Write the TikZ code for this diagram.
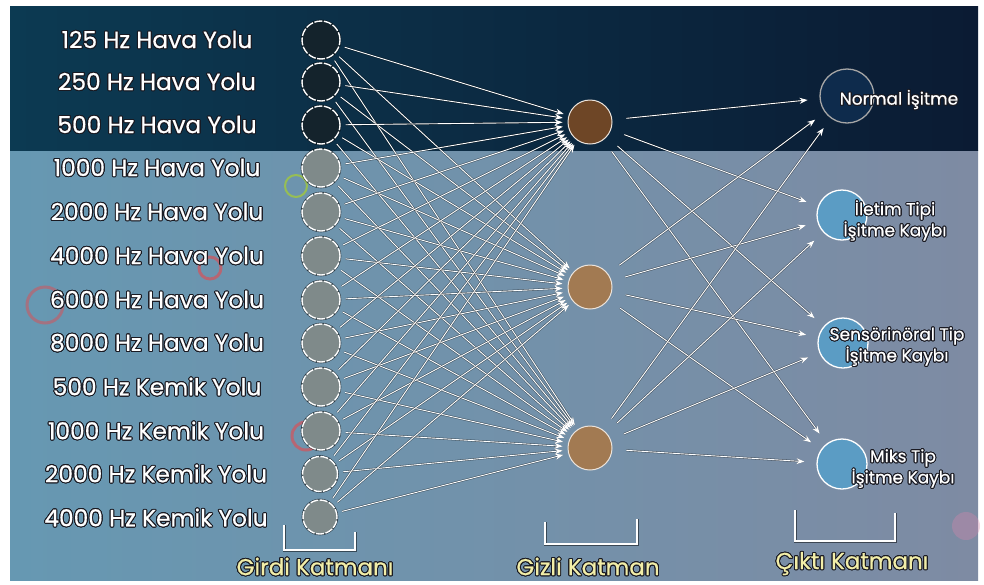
\documentclass[tikz,border=0pt]{standalone}
\usepackage{fontspec}
\setmainfont{Poppins}
\newfontfamily\lblfont{Poppins}[FakeBold=0.6]
\usepackage{contour}
\contourlength{1pt}
\usetikzlibrary{arrows.meta}

\definecolor{topnavy}{HTML}{0B1B33}
\definecolor{topteal}{HTML}{0C3A52}
\definecolor{lowteal}{HTML}{6698B2}
\definecolor{lowblue}{HTML}{7390BA}
\definecolor{lowgray}{HTML}{7E8BA3}
\definecolor{ingray}{HTML}{7F8A8A}
\definecolor{indark}{HTML}{14232C}
\definecolor{hidtan}{HTML}{A27A52}
\definecolor{hiddark}{HTML}{6E4626}
\definecolor{outblue}{HTML}{5B9CC4}
\definecolor{outnavy}{HTML}{0E2B4C}
\definecolor{lyrtext}{HTML}{F2EEA8}
\definecolor{rimdark}{HTML}{1A1A22}

\tikzset{
  inunit/.style={circle, draw=white, line width=1.4pt, dash pattern=on 8pt off 1.5pt,
    fill=ingray, minimum size=38pt, inner sep=0pt,
    preaction={draw=black, opacity=0.6, line width=2.6pt, solid}},
  hidunit/.style={circle, draw=white!80!hidtan, line width=1pt, fill=hidtan,
    minimum size=44pt, inner sep=0pt},
  outunit/.style={circle, draw=white, line width=1.3pt, fill=outblue,
    minimum size=50pt, inner sep=0pt},
  inlabel/.style={text=white, font=\lblfont\fontsize{23.3}{26}\selectfont},
  outlabel/.style={text=white, align=center, font=\lblfont\fontsize{17}{17}\selectfont},
  layerlabel/.style={text=lyrtext, font=\lblfont\fontsize{23}{26}\selectfont},
  link/.style={draw=white, line width=0.9pt, -{Stealth[length=8pt,width=6pt]},
    preaction={draw=black, opacity=0.45, line width=2pt}},
  bracket/.style={draw=white, line width=1.6pt,
    preaction={draw=black, opacity=0.5, line width=3pt}}
}
\newcommand{\rim}[1]{\contour{rimdark}{#1}}

\begin{document}
\begin{tikzpicture}[x=1pt, y=-1pt]
\useasboundingbox (0,0) rectangle (984,584);
% background
\fill[white] (0,0) rectangle (984,584);
\shade[left color=lowteal, middle color=lowblue, right color=lowgray] (10,150) rectangle (978,580);
\shade[left color=topteal, right color=topnavy] (10,6) rectangle (978,150);
\draw[red!70!pink, line width=3pt, opacity=0.5] (210,268) circle (11);
\draw[red!70!pink, line width=3pt, opacity=0.4] (45,305) circle (18);
\draw[yellow!70!green, line width=2pt, opacity=0.6] (296,186) circle (11);
\draw[red!70!pink, line width=3pt, opacity=0.5] (306,436) circle (14);
\fill[pink!70!violet, opacity=0.35] (966,526) circle (14);

% input layer
\node[inunit, fill=indark] (i1) at (321,40) {};
\node[inunit, fill=indark] (i2) at (321,82) {};
\node[inunit, fill=indark] (i3) at (321,125) {};
\node[inunit] (i4) at (321,168) {};
\node[inunit] (i5) at (321,212) {};
\node[inunit] (i6) at (321,256) {};
\node[inunit] (i7) at (321,300) {};
\node[inunit] (i8) at (321,343) {};
\node[inunit] (i9) at (321,387) {};
\node[inunit] (i10) at (321,431) {};
\node[inunit, minimum size=35pt] (i11) at (320,474) {};
\node[inunit, minimum size=34pt] (i12) at (320,517) {};

\node[inlabel] (l1) at (157,40) {\rim{125 Hz Hava Yolu}};
\node[inlabel] (l2) at (157,82) {\rim{250 Hz Hava Yolu}};
\node[inlabel] (l3) at (157,125) {\rim{500 Hz Hava Yolu}};
\node[inlabel] (l4) at (157,168) {\rim{1000 Hz Hava Yolu}};
\node[inlabel] (l5) at (157,212) {\rim{2000 Hz Hava Yolu}};
\node[inlabel] (l6) at (157,256) {\rim{4000 Hz Hava Yolu}};
\node[inlabel] (l7) at (157,300) {\rim{6000 Hz Hava Yolu}};
\node[inlabel] (l8) at (157,343) {\rim{8000 Hz Hava Yolu}};
\node[inlabel] (l9) at (157,387) {\rim{500 Hz Kemik Yolu}};
\node[inlabel] (l10) at (156,431) {\rim{1000 Hz Kemik Yolu}};
\node[inlabel] (l11) at (156,474) {\rim{2000 Hz Kemik Yolu}};
\node[inlabel] (l12) at (156,518) {\rim{4000 Hz Kemik Yolu}};

% hidden layer
\node[hidunit, fill=hiddark] (h1) at (590,122) {};
\node[hidunit] (h2) at (590,287) {};
\node[hidunit] (h3) at (590,448) {};

% output layer
\node[outunit, fill=outnavy, draw=gray!70, minimum size=54pt] (o1) at (847,96) {};
\node[outunit] (o2) at (842,215) {};
\node[outunit] (o3) at (843,343) {};
\node[outunit] (o4) at (842,464) {};

\node[outlabel] (t1) at (899,100) {\rim{Normal İşitme}};
\node[outlabel] (t2) at (895,221) {\rim{İletim Tipi}\\\rim{İşitme Kaybı}};
\node[outlabel] (t3) at (897,347) {\rim{Sensörinöral Tip}\\\rim{İşitme Kaybı}};
\node[outlabel] (t4) at (903,469) {\rim{Miks Tip}\\\rim{İşitme Kaybı}};

% connections
\foreach \i in {1,...,12}
  \foreach \h in {1,2,3}
    \draw[link, shorten <=5pt, shorten >=5pt] (i\i) -- (h\h);
\foreach \h in {1,2,3}
  \foreach \o in {1,...,4}
    \draw[link, shorten <=14pt, shorten >=12pt] (h\h) -- (o\o);

% layer brackets
\draw[bracket] (284,525) -- (284,550) -- (355,550) -- (355,532);
\draw[bracket] (545,522) -- (545,544) -- (637,544) -- (637,519);
\draw[bracket] (795,510) -- (795,541) -- (895,541) -- (895,513);
\node[layerlabel] (girdi) at (315,567) {\rim{Girdi Katmanı}};
\node[layerlabel] (gizli) at (588,567) {\rim{Gizli Katman}};
\node[layerlabel] (cikti) at (852,564) {\rim{Çıktı Katmanı}};
\end{tikzpicture}
\end{document}
